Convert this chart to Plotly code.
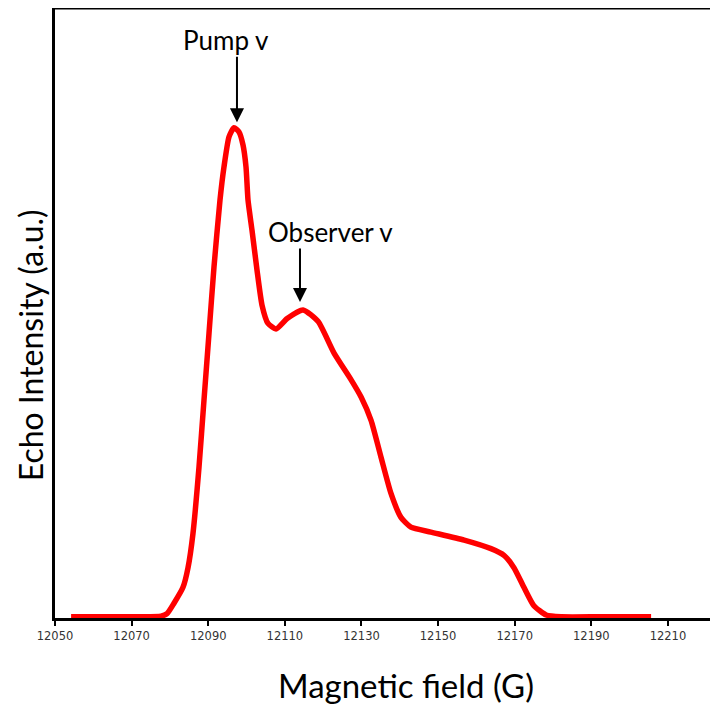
import plotly.graph_objects as go

field_G = [12054.2, 12064.6, 12072.4, 12077.67, 12079.24, 12081.06, 12083.41, 12084.72, 12086.02,
           12087.59, 12088.89, 12090.20, 12091.50, 12093.07, 12094.11, 12095.42, 12096.72,
           12098.03, 12099.07, 12099.86, 12100.38, 12101.42, 12102.73, 12104.03, 12105.60,
           12107.69, 12110.6, 12114.74, 12118.7, 12122.8, 12127.3, 12129.9,
           12132.5, 12135.1, 12137.7, 12140.3, 12142.9, 12148.1, 12156.8, 12163.8, 12167.2,
           12169.8, 12172.4, 12175.0, 12178.2, 12182.1, 12192.5, 12205.6]
intensity = [0.006, 0.006, 0.006, 0.007, 0.011, 0.028, 0.054, 0.086, 0.142,
             0.250, 0.359, 0.468, 0.576, 0.685, 0.739, 0.788, 0.803,
             0.796, 0.775, 0.739, 0.685, 0.636, 0.571, 0.514, 0.484,
             0.475, 0.492, 0.506, 0.487, 0.436, 0.392, 0.364,
             0.326, 0.266, 0.207, 0.168, 0.152, 0.144, 0.131, 0.117, 0.106,
             0.086, 0.054, 0.024, 0.009, 0.006, 0.006, 0.006]
tick_vals = [12050, 12070, 12090, 12110, 12130, 12150, 12170, 12190, 12210]
tick_text = [str(v) for v in tick_vals]

x_title = "Magnetic field (G)"
y_title = "Echo Intensity (a.u.)"
pump_label = "Pump v"
pump_field, pump_tip = 12097.5, 0.812
obs_label = "Observer v"
obs_field, obs_tip = 12113.95, 0.519

FONT = "Lato, Open Sans, sans-serif"

fig = go.Figure()
fig.add_trace(go.Scatter(x=field_G, y=intensity, mode="lines",
                         line=dict(color="#ff0000", width=5.5, shape="spline", smoothing=0.55),
                         showlegend=False, hoverinfo="skip"))

fig.update_layout(
    width=718, height=701,
    margin=dict(l=47, r=0, t=0, b=91),
    paper_bgcolor="white", plot_bgcolor="white",
    xaxis=dict(range=[12050, 12225.15], tickvals=tick_vals, ticktext=tick_text,
               showgrid=False, zeroline=False, showline=True, linecolor="black", linewidth=3,
               ticks="outside", ticklen=5, tickwidth=2, tickcolor="black",
               tickfont=dict(family="DejaVu Sans", size=11.5, color="#333333")),
    yaxis=dict(range=[0.004, 0.998], showticklabels=False, ticks="", showgrid=False, zeroline=False,
               showline=True, linecolor="black", linewidth=3),
    shapes=[dict(type="line", xref="paper", yref="paper", x0=-0.003, x1=1, y0=1, y1=1,
                 line=dict(color="black", width=3))],
    annotations=[
        dict(x=0, y=0.447, xref="paper", yref="paper", xshift=-25, text=y_title, textangle=-90,
             showarrow=False, xanchor="center", yanchor="middle", borderpad=0,
             font=dict(family=FONT, size=32, color="black")),
        dict(x=12141.6, y=0, xref="x", yref="paper", yshift=-67, text=x_title,
             showarrow=False, xanchor="center", yanchor="middle",
             font=dict(family=FONT, size=33, color="black")),
        dict(x=pump_field, y=pump_tip, xref="x", yref="y", text="", showarrow=True,
             ax=0, ay=-67, arrowhead=2, arrowsize=1.4, arrowwidth=2, arrowcolor="black"),
        dict(x=12094.6, y=0.946, xref="x", yref="y", text=pump_label, showarrow=False,
             font=dict(family=FONT, size=26, color="black")),
        dict(x=obs_field, y=obs_tip, xref="x", yref="y", text="", showarrow=True,
             ax=0, ay=-55, arrowhead=2, arrowsize=1.4, arrowwidth=2, arrowcolor="black"),
        dict(x=12122.0, y=0.633, xref="x", yref="y", text=obs_label, showarrow=False,
             font=dict(family=FONT, size=26, color="black")),
    ],
)

fig.write_html("out.html")
